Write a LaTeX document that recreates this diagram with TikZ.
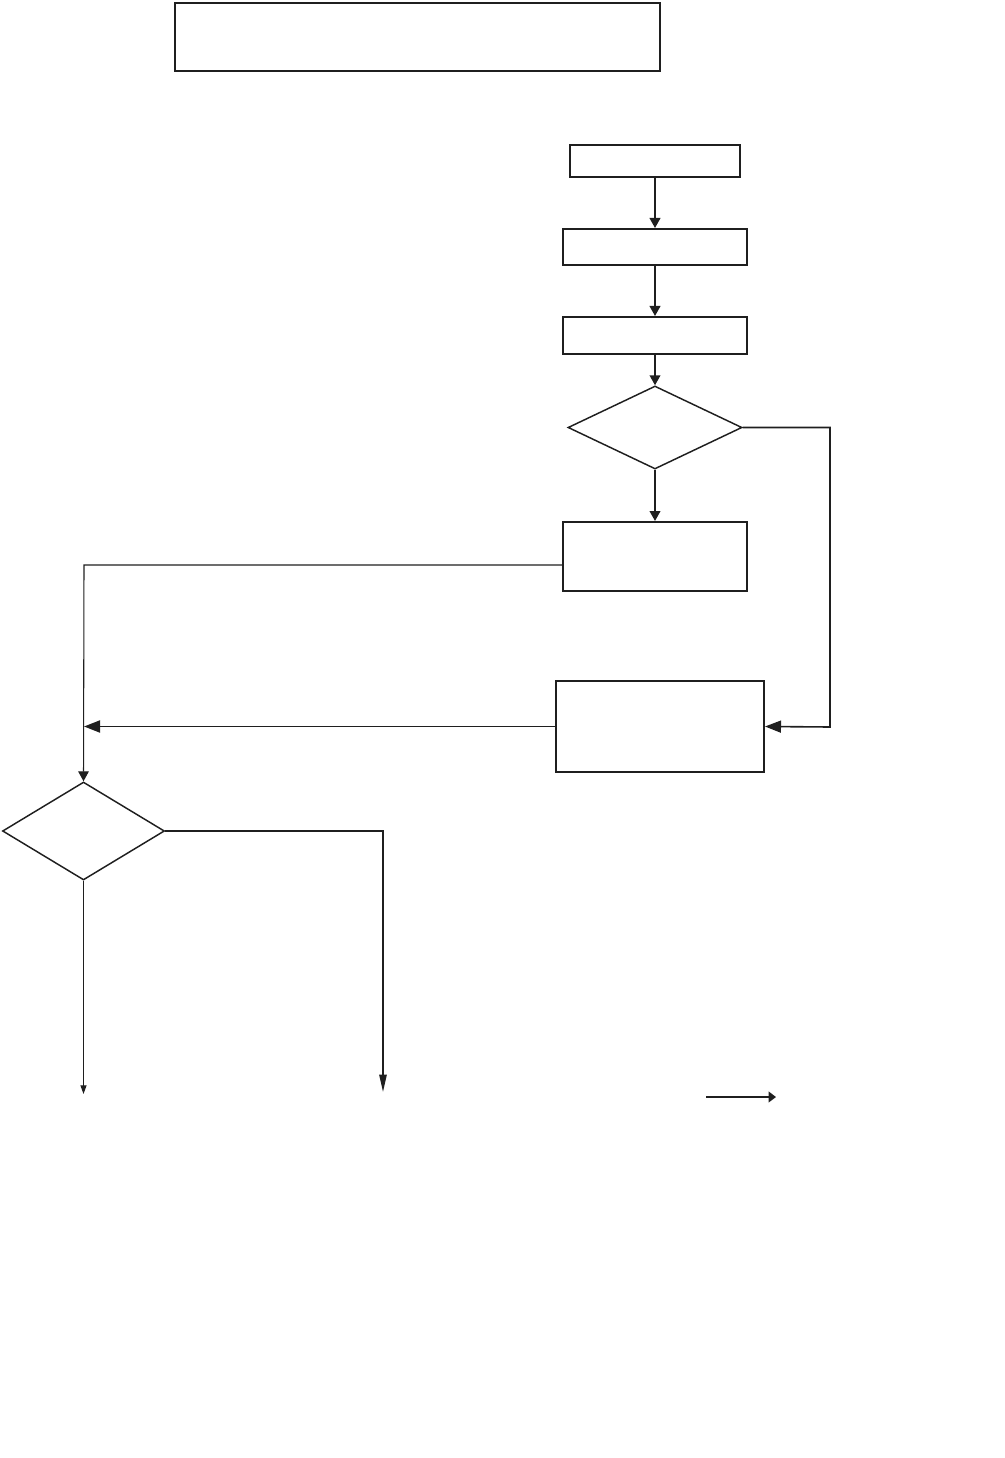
\documentclass[tikz,border=0pt]{standalone}
\usetikzlibrary{arrows.meta,shapes.geometric}
\tikzset{
  boxnode/.style={draw=black!88,line width=1.5pt,rectangle,inner sep=0pt},
  decnode/.style={draw=black!88,line width=1.1pt,diamond,inner sep=0pt,aspect=1},
  conn/.style={draw=black!88,line width=1.4pt},
  thinconn/.style={draw=black!88,line width=0.8pt},
  tip/.style={-{Triangle[length=7.5pt,width=8pt]}},
  bigtip/.style={-{Triangle[length=12pt,width=9pt]}},
  longtip/.style={-{Triangle[length=13pt,width=5.5pt]}},
  smalltip/.style={-{Triangle[length=6.5pt,width=4.5pt]}},
  stubtip/.style={-{Triangle[length=5.5pt,width=8pt]}}
}
\begin{document}
\begin{tikzpicture}[x=0.75pt,y=-0.75pt]
\useasboundingbox (0,0) rectangle (1004,1458);
\node[boxnode,minimum width=363.75pt,minimum height=51pt] (top) at (417.5,37) {};
\node[boxnode,line width=1.1pt,minimum width=127.5pt,minimum height=24pt] (b1) at (655,161) {};
\node[boxnode,minimum width=138pt,minimum height=27pt] (b2) at (655,247) {};
\node[boxnode,minimum width=138pt,minimum height=27.75pt] (b3) at (655,335.5) {};
\node[decnode,minimum width=130.5pt,minimum height=62.25pt] (d1) at (655,427.5) {};
\node[boxnode,minimum width=138pt,minimum height=51.75pt] (b4) at (655,556.5) {};
\node[boxnode,minimum width=156pt,minimum height=68.25pt] (b5) at (660,726.5) {};
\node[decnode,minimum width=121.5pt,minimum height=73.5pt] (d2) at (83.5,831) {};
\coordinate (j1) at (84,565);
\coordinate (r1) at (830,727);
\coordinate (e1) at (383,1092);
\coordinate (e2) at (84,1094);
\coordinate (f1) at (706,1097);
\coordinate (f2) at (776,1097);
\draw[conn,tip] (b1.south) -- (b2.north);
\draw[conn,tip] (b2.south) -- (b3.north);
\draw[conn,tip] (b3.south) -- (d1.north);
\draw[conn,tip] (d1.south) -- (b4.north);
\draw[conn,line width=1.2pt,bigtip] (d1.east) -| (r1) -- (b5.east);
\draw[thinconn,tip] (b4.west |- j1) -- (j1) -- (d2.north);
\draw[conn,bigtip] (b5.west) -- (b5.west -| j1);
\draw[conn,line width=1.2pt,longtip] (d2.east) -| (e1);
\draw[thinconn,smalltip] (d2.south) -- (d2.south |- e2);
\draw[conn,line width=1.1pt,stubtip] (f1) -- (f2);
\end{tikzpicture}
\end{document}
